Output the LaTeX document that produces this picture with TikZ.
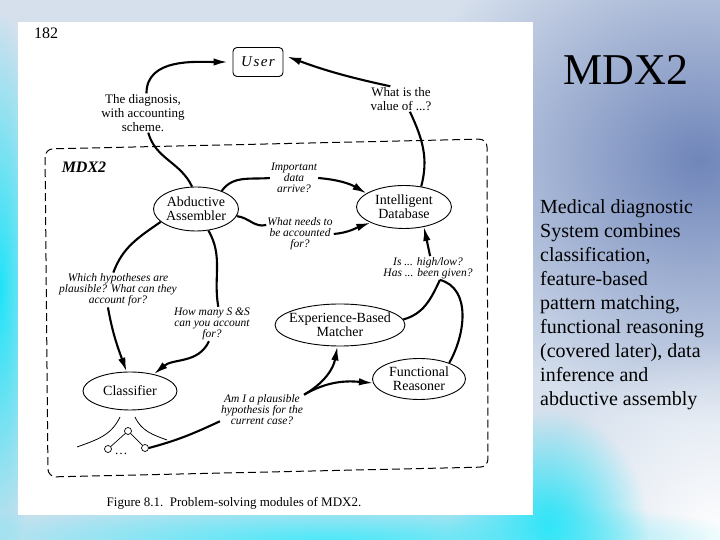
\documentclass[tikz,border=0pt]{standalone}
\usepackage{fontspec}
\setmainfont{Liberation Serif}
\usepackage{tikz}
\usetikzlibrary{arrows.meta,positioning,shapes.geometric,fadings}
\definecolor{SlideBase}{RGB}{214,224,237}
\definecolor{SlideBlue}{RGB}{112,134,186}
\definecolor{SlideCyan}{RGB}{30,228,248}
\tikzfading[name=glow, inner color=transparent!0, outer color=transparent!100]

\begin{document}
\begin{tikzpicture}[x=1pt, y=1pt,
  module/.style={draw, ellipse, line width=0.9pt, inner xsep=-5pt, inner ysep=0pt, align=center, font=\fontsize{14}{14}\selectfont},
  query/.style={align=center, inner sep=1pt, font=\fontsize{11.5}{11}\selectfont\itshape},
  reply/.style={align=center, inner sep=1pt, font=\fontsize{13}{13.8}\selectfont},
  flow/.style={line width=2.1pt},
  ask/.style={flow, -{Latex[length=14pt, width=7.5pt]}},
  frame/.style={line width=1pt, dash pattern=on 8pt off 4pt, rounded corners=8pt}]
\useasboundingbox (0,0) rectangle (720,540);
% slide background
\begin{scope}
\clip (0,0) rectangle (720,540);
\fill[SlideBase] (0,0) rectangle (720,540);
\fill[SlideBlue, path fading=glow] (700,380) ellipse (300 and 260);
\fill[white, path fading=glow] (720,0) ellipse (190 and 200);
\fill[SlideCyan, path fading=glow] (548,10) ellipse (100 and 120);
\fill[SlideCyan!80, path fading=glow] (330,0) ellipse (420 and 45);
\fill[SlideCyan, path fading=glow] (0,250) ellipse (45 and 280);
\end{scope}

% scanned page
\fill[white] (18,25) rectangle (533,518);
\node[font=\fontsize{16}{16}\selectfont] (pagenum) at (46,507) {182};

\node[draw, rounded corners=4pt, line width=0.9pt, minimum width=50, minimum height=29, font=\fontsize{15}{15}\selectfont\itshape\addfontfeature{LetterSpace=10}] (user) at (258,478) {User};
\node[reply] (diag) at (143,427) {The diagnosis,\\with accounting\\scheme.};
\node[reply] (value) at (401,441) {What is the\\value of ...?};

\draw[frame] (48,63) -- (488,73) -- (487,401) -- (45,391) -- cycle;
\node[font=\fontsize{16}{16}\selectfont\bfseries\itshape] (mdxtag) at (84,373) {MDX2};

% modules
\node[module, minimum width=85, minimum height=44] (abd) at (196,331) {Abductive\\Assembler};
\node[module, minimum width=95, minimum height=43] (idb) at (404,333) {Intelligent\\Database};
\node[module, minimum width=130, minimum height=42] (ebm) at (340,215) {Experience-Based\\Matcher};
\node[module, minimum width=93, minimum height=41] (fr) at (419,161) {Functional\\Reasoner};
\node[module, minimum width=94, minimum height=38] (cls) at (130,149) {Classifier};

% questions
\node[query] (important) at (294,362) {Important\\data\\arrive?};
\node[query] (needs) at (300,306) {What needs to\\be accounted\\for?};
\node[query] (ishigh) at (428,272) {Is ... high/low?\\Has ... been given?};
\node[query] (which) at (118,250) {Which hypotheses are\\plausible? What can they\\account for?};
\node[query] (howmany) at (212,216) {How many S \&S\\can you account\\for?};
\node[query] (amI) at (262,130) {Am I a plausible\\hypothesis for the\\current case?};

% hypothesis tree under the classifier
\node[draw, circle, inner sep=0pt, minimum size=7pt, line width=0.7pt] (hroot) at (128,109) {};
\node[draw, circle, inner sep=0pt, minimum size=7pt, line width=0.7pt] (hleft) at (108,91) {};
\node[draw, circle, inner sep=0pt, minimum size=7pt, line width=0.7pt] (hright) at (145,92) {};
\node[font=\fontsize{13}{13}\selectfont] (hdots) at (121,86) {\dots};
\draw[line width=0.7pt] (hroot) -- (hleft);
\draw[line width=0.7pt] (hroot) -- (hright);
\draw[line width=0.8pt] (120,123) to[out=-115, in=20] (77,93);
\draw[line width=0.8pt] (135,123) to[out=-65, in=160] (167,100);

% connectors
\draw[flow] (abd.100) to[out=115, in=-75] (diag.-75);
\draw[ask, shorten >=5pt] (diag.80) to[out=90, in=180] (user.west);
\draw[ask, shorten >=4pt] (value.130) to[bend left=4] (user.15);
\draw[flow] (idb.50) to[out=75, in=-65] (value.-55);

\draw[flow] (abd.35) to[out=55, in=185] (important.west);
\draw[ask] (important.east) to[out=-5, in=150] (idb.160);
\draw[flow] (abd.-10) to[out=-5, in=195] (needs.165);
\draw[ask] (needs.east) to[out=5, in=-160] (idb.-155);
\draw[ask] (ishigh.80) -- (idb.-45);
\draw[flow] (ishigh.-45) to[out=-115, in=15] (ebm.5);
\draw[flow] (ishigh.-45) to[out=-15, in=60] (fr.28);

\draw[flow] (abd.-160) to[out=-145, in=70] (which.105);
\draw[ask] (which.-120) to[out=-80, in=110] (cls.100);
\draw[flow] (abd.-60) to[out=-60, in=100] (howmany.70);
\draw[ask] (howmany.-100) to[out=-115, in=40] (cls.35);

\draw[flow] (hright.east) to[out=15, in=205] (amI.195);
\draw[ask] (amI.20) to[out=30, in=-100] (ebm.-97);
\draw[ask] (amI.20) to[out=30, in=175] (fr.185);

\node[font=\fontsize{13}{13}\selectfont] (caption) at (234,37) {Figure 8.1.\enspace Problem-solving modules of MDX2.};

% slide text
\node[font=\fontsize{44}{44}\selectfont, anchor=base] (title) at (626,455) {MDX2};
\node[anchor=north west, inner sep=0pt, align=left, font=\fontsize{20}{24}\selectfont] (summary) at (540,341) {Medical diagnostic\\System combines\\classification,\\feature-based\\pattern matching,\\functional reasoning\\(covered later), data\\inference and\\abductive assembly};
\end{tikzpicture}
\end{document}
